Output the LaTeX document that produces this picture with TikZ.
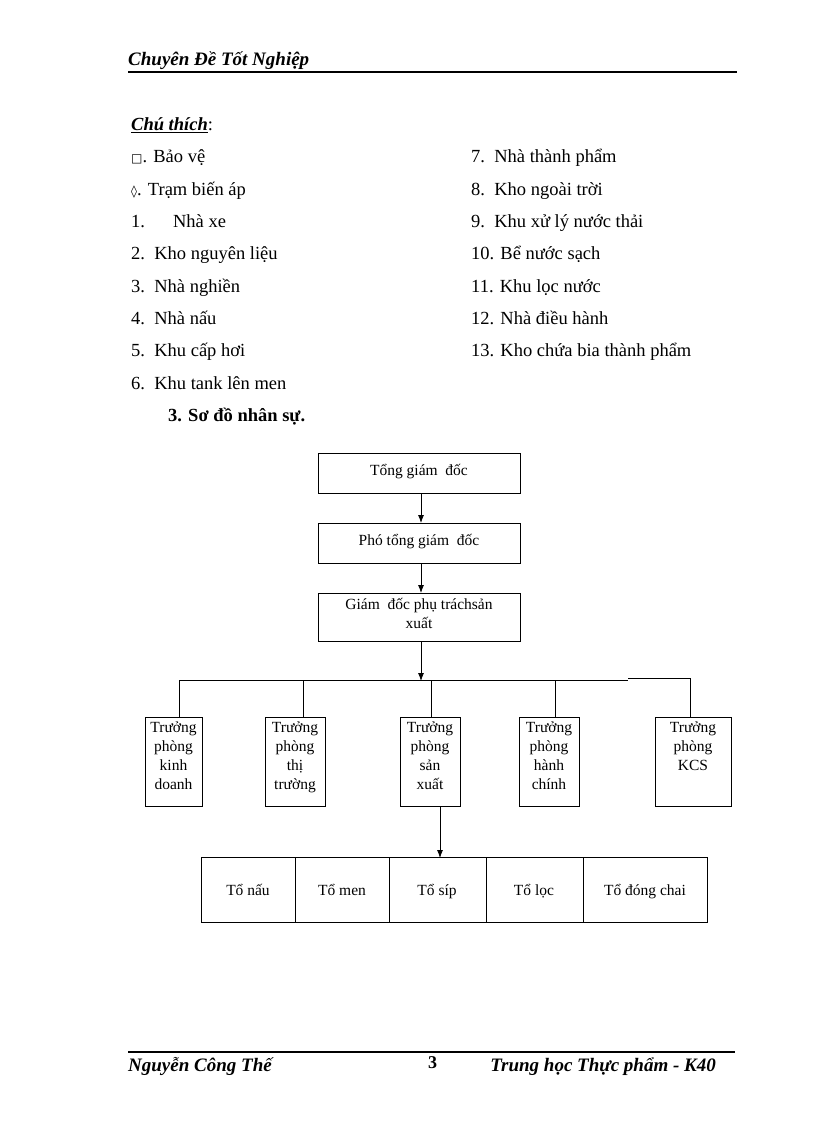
\documentclass[tikz,border=0pt]{standalone}
\usepackage{fontspec}
\usetikzlibrary{arrows.meta}
\setmainfont{Liberation Serif}
\newfontfamily\symf{DejaVu Sans}
\begin{document}
\begin{tikzpicture}[x=1pt,y=-1pt,
  txt/.style={anchor=base west,inner sep=0pt,font=\fontsize{18.5}{20}\selectfont},
  bx/.style={draw,thick},
  bt/.style={inner sep=0pt,align=center,font=\fontsize{15.5}{19}\selectfont},
  arr/.style={thick,-{Latex[length=8pt,width=6pt]}}]
\useasboundingbox (0,0) rectangle (816,1123);
% header
\node[txt,font=\fontsize{19}{20}\selectfont\bfseries\itshape] (hd) at (128,66) {Chuyên Đề Tốt Nghiệp};
\draw[line width=1.5pt] (128,72) -- (737,72);
% legend
\node[txt,font=\fontsize{18.5}{20}\selectfont\bfseries\itshape] (ct) at (131,131) {\underline{Chú thích}\normalfont:};
\foreach \t [count=\i] in {{\symf\fontsize{12}{12}\selectfont □}. Bảo vệ,{\symf\fontsize{12}{12}\selectfont ◊}. Trạm biến áp,1.\hspace{28pt}Nhà xe,2.\ \ Kho nguyên liệu,3.\ \ Nhà nghiền,4.\ \ Nhà nấu,5.\ \ Khu cấp hơi,6.\ \ Khu tank lên men}
  \node[txt] (l\i) at (131,{163+32.3*(\i-1)}) {\t};
\foreach \t [count=\i] in {7.\ \ Nhà thành phẩm,8.\ \ Kho ngoài trời,9.\ \ Khu xử lý nước thải,10. Bể nước sạch,11. Khu lọc nước,12. Nhà điều hành,13. Kho chứa bia thành phẩm}
  \node[txt] (r\i) at (471,{163+32.3*(\i-1)}) {\t};
\node[txt,font=\fontsize{18.5}{20}\selectfont\bfseries] (sd) at (168,421) {3. Sơ đồ nhân sự.};
% chart
\draw[bx] (318,453) rectangle (520,493);
\node[bt,anchor=base] (a) at (419,475) {Tổng giám\ \ đốc};
\draw[bx] (318,523) rectangle (520,563);
\node[bt,anchor=base] (b) at (419,545) {Phó tổng giám\ \ đốc};
\draw[bx] (318,593) rectangle (520,641);
\node[bt,anchor=north] (c) at (419,598) {Giám\ \ đốc phụ tráchsản\\xuất};
\draw[arr] (421,493) -- (421,523);
\draw[arr] (421,563) -- (421,593);
\draw[arr] (421,641) -- (421,681);
\draw[thick] (179,680) -- (628,680) (628,678) -- (690,678);
\foreach \n/\xa/\xb/\xs/\t in {d1/145/202/179/{Trưởng\\phòng\\kinh\\doanh},d2/265/325/303/{Trưởng\\phòng\\thị\\trường},d3/400/460/431/{Trưởng\\phòng\\sản\\xuất},d4/519/579/555/{Trưởng\\phòng\\hành\\chính},d5/655/731/690/{Trưởng\\phòng\\KCS}}{
  \draw[bx] (\xa,717) rectangle (\xb,806);
  \node[bt,anchor=north] (\n) at ({(\xa+\xb)/2},722) {\t};
  \draw[thick] (\xs,{(\xs==690)?678:680}) -- (\xs,717);
}
\draw[arr] (440,806) -- (440,858);
\draw[bx] (201,857) rectangle (707,922);
\foreach \x in {295,389,486,583} \draw[thick] (\x,857) -- (\x,922);
\foreach \n/\x/\t in {e1/248/Tổ nấu,e2/342/Tổ men,e3/437/Tổ síp,e4/534/Tổ lọc,e5/645/Tổ đóng chai}
  \node[bt,anchor=base] (\n) at (\x,895) {\t};
% footer
\draw[line width=1.2pt] (128,1052) -- (735,1052);
\node[txt,font=\fontsize{19}{20}\selectfont\bfseries\itshape] (f1) at (128,1071) {Nguyễn Công Thế};
\node[txt,font=\fontsize{18}{20}\selectfont\bfseries] (pg) at (428,1068) {3};
\node[anchor=base east,inner sep=0pt,font=\fontsize{19}{20}\selectfont\bfseries\itshape] (f2) at (716,1071) {Trung học Thực phẩm - K40};
\end{tikzpicture}
\end{document}
